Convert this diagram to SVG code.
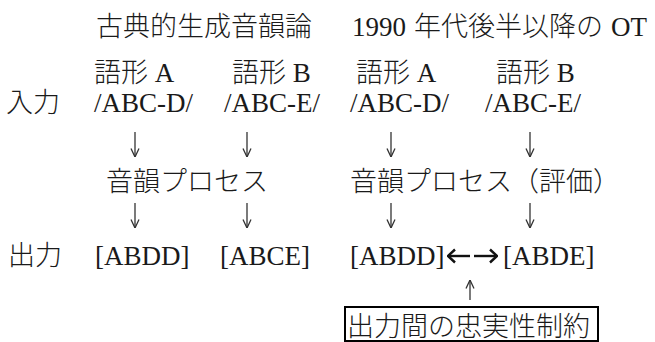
<svg xmlns="http://www.w3.org/2000/svg" width="655" height="342" viewBox="0 0 655 342">
<style>
  .t { font-family: "Liberation Serif", "Noto Sans CJK JP", serif; font-size: 27px; font-weight: 300; fill: #1a1a1a; }
  .c { stroke: #333; stroke-width: 1.3; fill: none; }
  .cb { stroke: #111; stroke-width: 2.4; fill: none; }
  .box { fill: #fff; stroke: #000; stroke-width: 2; }
</style>
<defs>
  <marker id="open" viewBox="0 0 10 10" refX="10" refY="5" markerWidth="10" markerHeight="10" markerUnits="userSpaceOnUse" orient="auto">
    <path d="M1.5,1 L10,5 L1.5,9" fill="none" stroke="#333" stroke-width="1.3"/>
  </marker>
  <marker id="bold" viewBox="0 0 10 16" refX="9" refY="8" markerWidth="10" markerHeight="16" markerUnits="userSpaceOnUse" orient="auto">
    <path d="M2,1.5 L9,8 L2,14.5" fill="none" stroke="#111" stroke-width="2.4"/>
  </marker>
</defs>

<g id="title-classic"><text class="t" x="96" y="36">古典的生成音韻論</text></g>
<g id="title-ot"><text class="t" y="36"><tspan x="352">1990</tspan><tspan x="414">年代後半以降の</tspan><tspan x="611">OT</tspan></text></g>

<g id="form-a-classic"><text class="t" x="94" y="82">語形 A</text></g>
<g id="form-b-classic"><text class="t" x="232" y="82">語形 B</text></g>
<g id="form-a-ot"><text class="t" x="356" y="82">語形 A</text></g>
<g id="form-b-ot"><text class="t" x="496" y="82">語形 B</text></g>

<g id="label-input"><text class="t" x="6" y="112">入力</text></g>
<g id="input-a-classic"><text class="t" x="94" y="112">/ABC-D/</text></g>
<g id="input-b-classic"><text class="t" x="224" y="112">/ABC-E/</text></g>
<g id="input-a-ot"><text class="t" x="350" y="112">/ABC-D/</text></g>
<g id="input-b-ot"><text class="t" x="485" y="112">/ABC-E/</text></g>

<g id="process-classic"><text class="t" x="106" y="191">音韻プロセス</text></g>
<g id="process-ot"><text class="t" x="350" y="191">音韻プロセス（評価）</text></g>

<g id="label-output"><text class="t" x="8" y="265">出力</text></g>
<g id="output-a-classic"><text class="t" x="95" y="265">[ABDD]</text></g>
<g id="output-b-classic"><text class="t" x="220" y="265">[ABCE]</text></g>
<g id="output-a-ot"><text class="t" x="350" y="265">[ABDD]</text></g>
<g id="output-b-ot"><text class="t" x="503" y="265">[ABDE]</text></g>

<g id="constraint">
  <rect class="box" x="345" y="307" width="253" height="34"/>
  <text class="t" x="347" y="336">出力間の忠実性制約</text>
</g>

<g id="connectors">
  <line class="c" x1="135" y1="132" x2="135" y2="157" marker-end="url(#open)"/>
  <line class="c" x1="247" y1="132" x2="247" y2="157" marker-end="url(#open)"/>
  <line class="c" x1="391" y1="132" x2="391" y2="157" marker-end="url(#open)"/>
  <line class="c" x1="530" y1="132" x2="530" y2="157" marker-end="url(#open)"/>
  <line class="c" x1="135" y1="203" x2="135" y2="228" marker-end="url(#open)"/>
  <line class="c" x1="247" y1="203" x2="247" y2="228" marker-end="url(#open)"/>
  <line class="c" x1="391" y1="203" x2="391" y2="228" marker-end="url(#open)"/>
  <line class="c" x1="530" y1="203" x2="530" y2="228" marker-end="url(#open)"/>
  <line class="cb" x1="470" y1="256" x2="448" y2="256" marker-end="url(#bold)"/>
  <line class="cb" x1="474" y1="256" x2="497" y2="256" marker-end="url(#bold)"/>
  <line class="c" x1="470" y1="300" x2="470" y2="280" marker-end="url(#open)"/>
</g>
</svg>
